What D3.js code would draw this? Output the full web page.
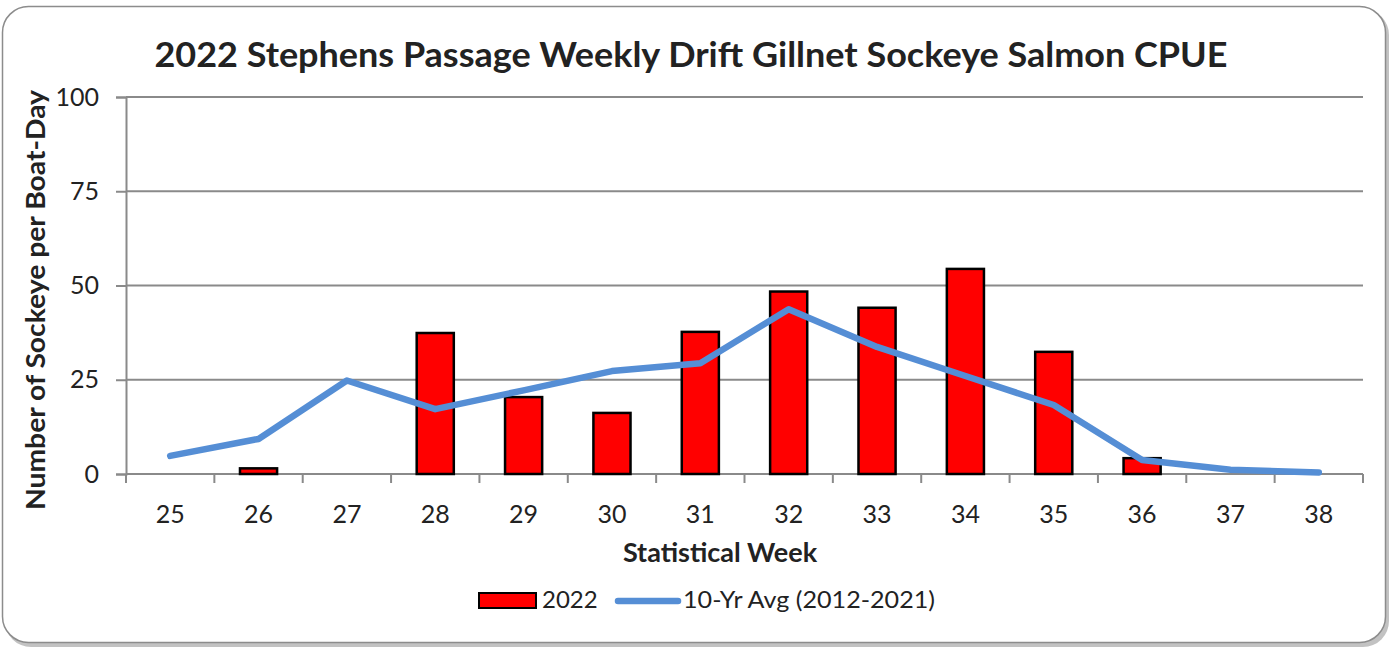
<!DOCTYPE html>
<html>
<head>
<meta charset="utf-8">
<script src="https://cdn.jsdelivr.net/npm/d3@7"></script>
<style>
  body { margin: 0; background: #fff; }
  text { font-family: Lato, "Open Sans", sans-serif; fill: #222; }
</style>
</head>
<body>
<svg id="chart" width="1391" height="649"></svg>
<script>
// chart data
var weeks = ["25","26","27","28","29","30","31","32","33","34","35","36","37","38"]
var cpue2022 = [null, 1.5, null, 37.4, 20.4, 16.2, 37.7, 48.4, 44.1, 54.4, 32.4, 4.2, null, null]
var avg10yr = [4.8, 9.3, 24.8, 17.2, 22.2, 27.3, 29.4, 43.7, 33.7, 26, 18.3, 3.7, 1.1, 0.4]
var yTicks = [0, 25, 50, 75, 100]

var svg = d3.select("#chart")

// frame + shadow
svg.append("rect")
    .attr("x", 5).attr("y", 9).attr("width", 1384).attr("height", 638)
    .attr("rx", 26).attr("fill", "#999").attr("opacity", 0.6)
svg.append("rect")
    .attr("x", 2.5).attr("y", 6.5).attr("width", 1383).attr("height", 636)
    .attr("rx", 26).attr("fill", "#fff").attr("stroke", "#8c8c8c").attr("stroke-width", 1.5)

var m = { left: 126, right: 1363, top: 97, bottom: 474 }

var x = d3.scaleBand().domain(weeks).range([m.left, m.right]).paddingInner(0.58).paddingOuter(0.29)
var xc = d3.scalePoint().domain(weeks).range([m.left, m.right]).padding(0.5)
var y = d3.scaleLinear().domain([0, 100]).range([m.bottom, m.top])

// gridlines
svg.append("g").selectAll("line")
    .data(yTicks.filter(d => d > 0))
    .enter().append("line")
    .attr("x1", m.left).attr("x2", m.right)
    .attr("y1", d => y(d)).attr("y2", d => y(d))
    .attr("stroke", "#8a8a8a").attr("stroke-width", 2)

// y axis
var yAxis = svg.append("g")
    .attr("transform", "translate(" + m.left + ",0)")
    .call(d3.axisLeft(y).tickValues(yTicks).tickSize(10).tickPadding(17))
yAxis.select(".domain").attr("stroke", "#8a8a8a").attr("stroke-width", 2)
yAxis.selectAll(".tick line").attr("stroke", "#8a8a8a").attr("stroke-width", 2)
yAxis.selectAll("text").style("font-size", "25px").style("font-family", "Lato, sans-serif").attr("fill", "#222")

// x axis (ticks at band edges)
var step = x.step()
var edges = d3.range(weeks.length + 1).map(i => m.left + i * step)
var xg = svg.append("g")
xg.append("line").attr("x1", m.left).attr("x2", m.right).attr("y1", m.bottom).attr("y2", m.bottom)
    .attr("stroke", "#8a8a8a").attr("stroke-width", 2)
xg.selectAll(".tk").data(edges).enter().append("line")
    .attr("x1", d => d).attr("x2", d => d).attr("y1", m.bottom).attr("y2", m.bottom + 9)
    .attr("stroke", "#8a8a8a").attr("stroke-width", 2)
xg.selectAll(".lbl").data(weeks).enter().append("text")
    .attr("x", d => xc(d)).attr("y", 523)
    .attr("text-anchor", "middle").style("font-size", "25px")
    .text(d => d)

// bars
svg.append("g").selectAll("rect")
    .data(weeks.map((w, i) => ({ w: w, v: cpue2022[i] })).filter(d => d.v != null))
    .enter().append("rect")
    .attr("x", d => x(d.w)).attr("width", x.bandwidth())
    .attr("y", d => y(d.v)).attr("height", d => m.bottom - y(d.v))
    .attr("fill", "#ff0000").attr("stroke", "#000").attr("stroke-width", 2.5)

// 10 yr avg line
var line = d3.line().x((d, i) => xc(weeks[i])).y(d => y(d))
svg.append("path")
    .datum(avg10yr)
    .attr("d", line)
    .attr("fill", "none").attr("stroke", "#558ed5").attr("stroke-width", 6.5)
    .attr("stroke-linecap", "round").attr("stroke-linejoin", "round")

// titles
svg.append("text").attr("x", 691).attr("y", 67).attr("text-anchor", "middle")
    .style("font-size", "35px").style("font-weight", "bold").attr("fill", "#000")
    .attr("textLength", 1073).attr("lengthAdjust", "spacingAndGlyphs")
    .text("2022 Stephens Passage Weekly Drift Gillnet Sockeye Salmon CPUE")
svg.append("text").attr("x", 720).attr("y", 562).attr("text-anchor", "middle")
    .style("font-size", "27px").style("font-weight", "bold").attr("fill", "#000")
    .text("Statistical Week")
svg.append("text").attr("transform", "translate(45,300) rotate(-90)").attr("text-anchor", "middle")
    .style("font-size", "27px").style("font-weight", "bold").attr("fill", "#000")
    .attr("textLength", 420).attr("lengthAdjust", "spacingAndGlyphs")
    .text("Number of Sockeye per Boat-Day")

// legend
var lg = svg.append("g")
lg.append("rect").attr("x", 479).attr("y", 593).attr("width", 57).attr("height", 15)
    .attr("fill", "#ff0000").attr("stroke", "#000").attr("stroke-width", 2)
lg.append("text").attr("x", 542).attr("y", 608).style("font-size", "24px").text("2022")
lg.append("line").attr("x1", 618).attr("x2", 678).attr("y1", 601).attr("y2", 601)
    .attr("stroke", "#558ed5").attr("stroke-width", 6.5).attr("stroke-linecap", "round")
lg.append("text").attr("x", 683).attr("y", 608).style("font-size", "24px")
    .attr("textLength", 252).attr("lengthAdjust", "spacingAndGlyphs")
    .text("10-Yr Avg (2012-2021)")
</script>
</body>
</html>
